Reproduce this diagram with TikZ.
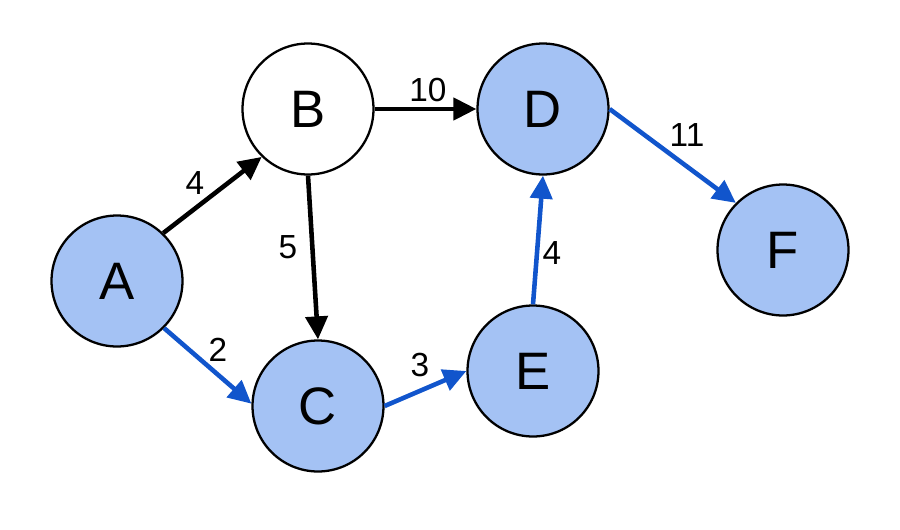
\documentclass[tikz,border=0pt]{standalone}
\usepackage{fontspec}
\setmainfont{Liberation Sans}
\usepackage{xcolor}
\usetikzlibrary{arrows.meta}
\definecolor{nodeblue}{HTML}{A4C2F4}
\definecolor{pathblue}{HTML}{1155CC}
\tikzset{
	vertex/.style={circle,draw=black,line width=1.3pt,fill=white,minimum size=2.62cm,inner sep=0pt,font=\fontsize{30}{31}\selectfont},
	reached/.style={vertex,fill=nodeblue},
	edge/.style={line width=2.6pt,-{Triangle[length=0.46cm,width=0.44cm]}},
	best/.style={edge,draw=pathblue,color=pathblue},
	weight/.style={font=\fontsize{19}{20}\selectfont}
}
\begin{document}
\begin{tikzpicture}[x=0.02cm,y=0.02cm]
		\useasboundingbox (0,0) rectangle (900,529);
		% vertices (pixel grid, y up)
		\node[reached] (A) at (117,248) {A};
		\node[vertex] (B) at (308,420) {B};
		\node[reached] (C) at (318,123) {C};
		\node[reached] (D) at (543,420) {D};
		\node[reached] (E) at (533,158) {E};
		\node[reached] (F) at (783,279) {F};
		% edges
		\draw[edge] (A.46) to (B.226);
		\draw[edge] (B.270) to (C.90);
		\draw[edge] (B.0) to (D.180);
		\draw[best] (A.315) to (C.178);
		\draw[best] (C.0) to (E.180);
		\draw[best] (E.90) to (D.270);
		\draw[best] (D.0) to (F.135);
		% weights
		\node[weight] (wab) at (195,346) {4};
		\node[weight] (wbc) at (288,282) {5};
		\node[weight] (wbd) at (428,439) {10};
		\node[weight] (wac) at (218,179) {2};
		\node[weight] (wce) at (420,164) {3};
		\node[weight] (wed) at (552,276) {4};
		\node[weight] (wdf) at (687,394) {11};
	\end{tikzpicture}
\end{document}
